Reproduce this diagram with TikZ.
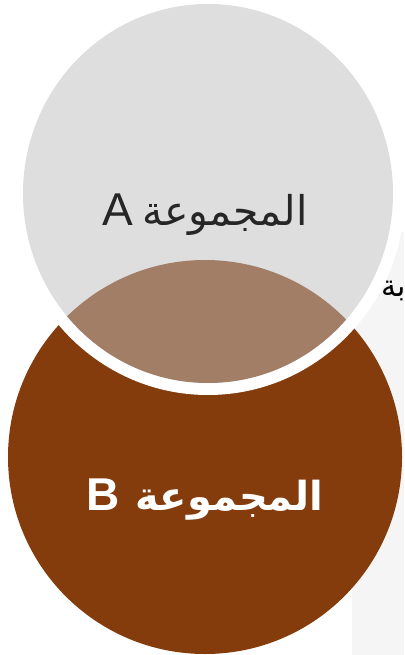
\documentclass[tikz,border=0pt]{standalone}
\usepackage{fontspec}
\setmainfont{Liberation Sans}
\newfontfamily\arabicfont[Script=Arabic]{DejaVu Sans}
\TeXXeTstate=1
\definecolor{agray}{HTML}{DEDEDE}
\definecolor{bbrown}{HTML}{843C0C}
\definecolor{mixc}{HTML}{A37E67}
\definecolor{txtA}{HTML}{262626}
\definecolor{bgright}{HTML}{F5F5F5}
\tikzset{
  setlabel/.style={inner sep=0pt},
}
\begin{document}
\begin{tikzpicture}[x=1pt,y=-1pt]
\useasboundingbox (0,0) rectangle (404,655);
\fill[white] (0,0) rectangle (404,655);
\fill[bgright] (352,232) rectangle (404,655);
% side text (cut off at the right edge)
\node[anchor=west, inner sep=0pt, font=\fontsize{30}{34}\selectfont, text=black] (side) at (381,291) {\arabicfont\beginR بة\endR};
% set B
\fill[bbrown] (205,457) circle [radius=197];
% white ring round A
\fill[white] (208,193.5) ellipse [x radius=197, y radius=201.5];
% set A
\fill[agray] (208,193.5) ellipse [x radius=185, y radius=189.5];
% overlap
\begin{scope}
  \clip (208,193.5) ellipse [x radius=185, y radius=189.5];
  \fill[mixc] (205,457) circle [radius=197];
\end{scope}
\node[setlabel, text=txtA] (tA) at (205,215)
  {\beginR{\arabicfont\fontsize{41}{46}\selectfont المجموعة}\hspace{9pt}{\fontsize{46}{50}\selectfont A}\endR};
\node[setlabel, text=white] (tB) at (205,500)
  {\beginR{\arabicfont\bfseries\fontsize{40}{44}\selectfont المجموعة}\hspace{16pt}{\bfseries\fontsize{46}{50}\selectfont B}\endR};
\end{tikzpicture}
\end{document}
